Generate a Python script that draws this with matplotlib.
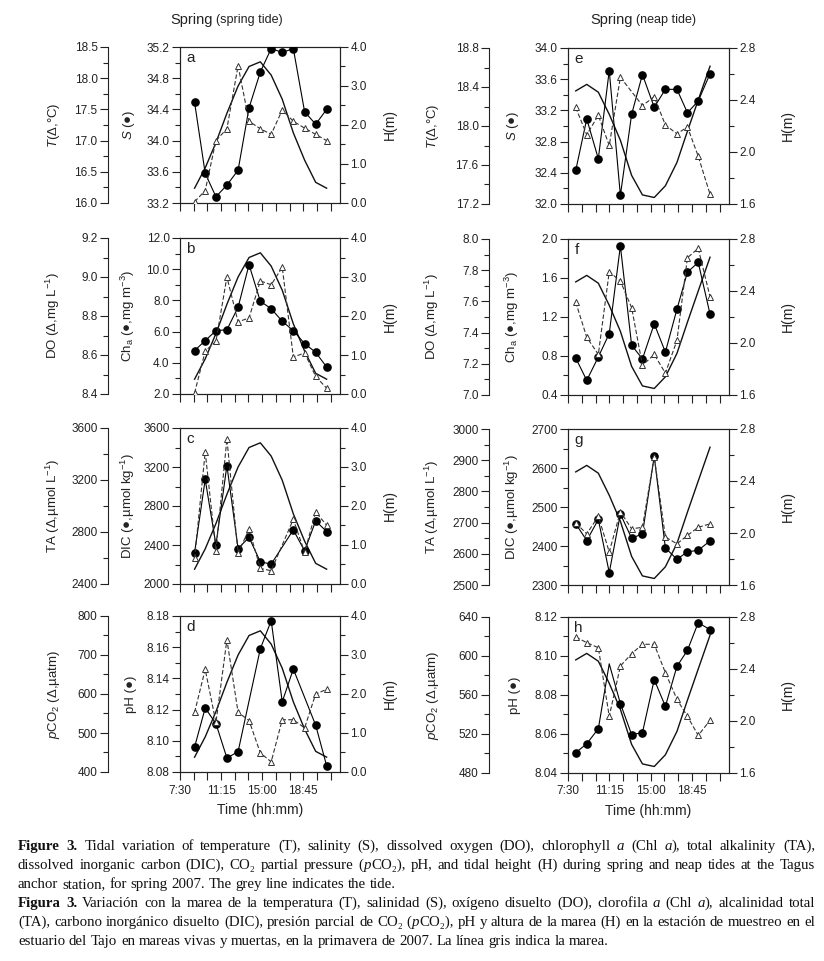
import numpy as np
import matplotlib
matplotlib.use("Agg")
import matplotlib.pyplot as plt
from matplotlib.ticker import MultipleLocator, AutoMinorLocator, FuncFormatter

plt.rcParams['font.family'] = ['Liberation Sans', 'DejaVu Sans']
plt.rcParams['mathtext.fontset'] = 'custom'
plt.rcParams['mathtext.rm'] = 'Liberation Sans'
plt.rcParams['mathtext.it'] = 'Liberation Sans:italic'
plt.rcParams['mathtext.bf'] = 'Liberation Sans:bold'

nan = np.nan

# time of sampling (decimal hours)
spring_time = [8.83, 9.8, 10.78, 11.78, 12.8, 13.8, 14.83, 15.82, 16.83, 17.84, 18.87, 19.88, 20.88]
neap_time = [8.2, 9.2, 10.25, 11.24, 12.25, 13.27, 14.25, 15.32, 16.33, 17.38, 18.33, 19.31, 20.38]

# tidal height (m)
spring_H = [0.38, 0.9, 1.55, 2.3, 3.0, 3.5, 3.62, 3.28, 2.66, 1.8, 1.1, 0.53, 0.38]
neap_H = [2.47, 2.52, 2.46, 2.29, 2.09, 1.82, 1.67, 1.65, 1.74, 1.92, 2.16, 2.40, 2.66]

# spring tide
spring_T = [16.02, 16.20, 17.00, 17.19, 18.20, 17.31, 17.19, 17.10, 17.49, 17.31, 17.20, 17.10, 17.00]
spring_S = [34.49, 33.58, 33.28, 33.43, 33.62, 34.42, 34.88, 35.18, 35.13, 35.18, 34.37, 34.21, 34.40]
spring_DO = [8.405, 8.62, 8.67, 9.00, 8.77, 8.79, 8.98, 8.96, 9.05, 8.59, 8.61, 8.49, 8.43]
spring_Cha = [4.78, 5.42, 6.06, 6.12, 7.56, 10.29, 7.94, 7.47, 6.66, 6.06, 5.23, 4.67, 3.73]
spring_TA = [2597, 3416, 2655, 3516, 2637, 2821, 2520, 2502, nan, 2898, 2643, 2954, 2852]
spring_DIC = [2323, 3072, 2402, 3215, 2364, 2477, 2228, 2204, nan, 2555, 2340, 2647, 2538]
spring_pCO2 = [553, 663, 527, 739, 553, 532, 449, 426, 534, 534, 513, 600, 612]
spring_pH = [8.096, 8.121, 8.111, 8.089, 8.093, nan, 8.159, 8.177, 8.125, 8.146, nan, 8.110, 8.084]

# neap tide
neap_T = [18.19, 17.91, 18.11, 17.80, 18.50, nan, 18.21, 18.30, 18.01, 17.92, 17.99, 17.69, 17.30]
neap_S = [32.43, 33.09, 32.58, 33.71, 32.11, 33.15, 33.66, 33.24, 33.47, 33.47, 33.17, 33.32, 33.67]
neap_DO = [7.595, 7.37, 7.26, 7.79, 7.73, 7.56, 7.19, 7.26, 7.14, 7.35, 7.88, 7.94, 7.63]
neap_Cha = [0.78, 0.55, 0.79, 1.03, 1.93, 0.91, 0.77, 1.13, 0.84, 1.28, 1.66, 1.76, 1.23]
neap_TA = [2699, 2664, 2720, 2606, 2735, 2680, 2685, 2911, 2654, 2632, 2659, 2685, 2696]
neap_DIC = [2457, 2414, 2468, 2332, 2482, 2420, 2431, 2630, 2395, 2366, 2385, 2389, 2413]
neap_pCO2 = [619.5, 613.7, 608.5, 538.1, 589.7, 602.4, 612, 612, 582.9, 555.6, 538, 518.6, 534]
neap_pH = [8.0504, 8.055, 8.0627, 8.096, 8.0756, 8.0597, 8.0607, 8.0879, 8.0742, 8.0947, 8.1029, 8.1171, 8.1135]
neap_pH_nomark = [3]

time_labels = {7.5: '7:30', 11.25: '11:15', 15.0: '15:00', 18.75: '18:45'}

# panel specs: letter, outer data, lim, step, fmt, label, inner data, lim, step, fmt, label
spring_panels = [
    ('a', spring_T, (16.0, 18.5), 0.5, '%.1f', r'$T$(Δ,°C)',
     spring_S, (33.2, 35.2), 0.4, '%.1f', r'$S$ (●)'),
    ('b', spring_DO, (8.4, 9.2), 0.2, '%.1f', r'DO (Δ,mg L$^{-1}$)',
     spring_Cha, (2.0, 12.0), 2.0, '%.1f', r'Ch$_\mathrm{a}$ (●,mg m$^{-3}$)'),
    ('c', spring_TA, (2400, 3600), 400, '%d', r'TA (Δ,µmol L$^{-1}$)',
     spring_DIC, (2000, 3600), 400, '%d', r'DIC (●,µmol kg$^{-1}$)'),
    ('d', spring_pCO2, (400, 800), 100, '%d', r'$p$CO$_2$ (Δ,µatm)',
     spring_pH, (8.08, 8.18), 0.02, '%.2f', r'pH (●)'),
]
neap_panels = [
    ('e', neap_T, (17.2, 18.8), 0.4, '%.1f', r'$T$(Δ,°C)',
     neap_S, (32.0, 34.0), 0.4, '%.1f', r'$S$ (●)'),
    ('f', neap_DO, (7.0, 8.0), 0.2, '%.1f', r'DO (Δ,mg L$^{-1}$)',
     neap_Cha, (0.4, 2.0), 0.4, '%.1f', r'Ch$_\mathrm{a}$ (●,mg m$^{-3}$)'),
    ('g', neap_TA, (2500, 3000), 100, '%d', r'TA (Δ,µmol L$^{-1}$)',
     neap_DIC, (2300, 2700), 100, '%d', r'DIC (●,µmol kg$^{-1}$)'),
    ('h', neap_pCO2, (480, 640), 40, '%d', r'$p$CO$_2$ (Δ,µatm)',
     neap_pH, (8.04, 8.12), 0.02, '%.2f', r'pH (●)'),
]

W, Hpx = 824, 961
fig = plt.figure(figsize=(W / 100, Hpx / 100), dpi=100)

tops = [47, 238, 428, 616]
ph = 156
tick_fs = 8.5
lab_fs = 9.5
ink = '#222222'


def fmt_time(v, pos):
    for k, s in time_labels.items():
        if abs(v - k) < 0.01:
            return s
    return ''


def make_panel(x0, pw, top, spec, t, H, Hlim, Hstep, outer_px, bottom, label_x, nomark=None):
    letter, yo, olim, ostep, ofmt, olab, yi, ilim, istep, ifmt, ilab = spec
    ax = fig.add_axes([x0 / W, 1 - (top + ph) / Hpx, pw / W, ph / Hpx])
    axr = ax.twinx()
    axo = ax.twinx()

    t = np.array(t)
    yo = np.array(yo, dtype=float)
    yi = np.array(yi, dtype=float)

    # tide
    axr.plot(t, H, color='#111111', lw=1.0, zorder=1)
    # inner variable: filled circles, solid
    m = ~np.isnan(yi)
    me = None
    if nomark is not None:
        idx = np.arange(len(yi))[m]
        me = [i for i, k in enumerate(idx) if k not in nomark]
    ax.plot(t[m], yi[m], '-', color='black', lw=0.8, marker='o', ms=5.2,
            mfc='black', mec='black', markevery=me, zorder=3)
    # outer variable: open triangles, dashed
    m2 = ~np.isnan(yo)
    axo.plot(t[m2], yo[m2], '--', color='#333333', lw=0.8, dashes=(4, 2),
             marker='^', ms=5, mfc='white', mec='#333333', mew=0.7, zorder=4)

    ax.set_zorder(axr.get_zorder() + 1)
    ax.patch.set_visible(False)
    axo.set_zorder(ax.get_zorder() + 1)

    ax.set_xlim(7.5, 22.1)
    ax.xaxis.set_major_locator(MultipleLocator(1.25))
    ax.xaxis.set_major_formatter(FuncFormatter(fmt_time) if bottom else FuncFormatter(lambda v, p: ''))

    ax.set_ylim(*ilim)
    ax.yaxis.set_major_locator(MultipleLocator(istep))
    ax.yaxis.set_minor_locator(AutoMinorLocator(2))
    ax.yaxis.set_major_formatter(FuncFormatter(lambda v, p, f=ifmt: f % v))

    axr.set_ylim(*Hlim)
    axr.yaxis.set_major_locator(MultipleLocator(Hstep))
    axr.yaxis.set_minor_locator(AutoMinorLocator(2))
    axr.yaxis.set_major_formatter(FuncFormatter(lambda v, p: '%.1f' % v))

    axo.set_ylim(*olim)
    axo.yaxis.set_major_locator(MultipleLocator(ostep))
    axo.yaxis.set_minor_locator(AutoMinorLocator(2))
    axo.yaxis.set_major_formatter(FuncFormatter(lambda v, p, f=ofmt: f % v))
    axo.yaxis.tick_left()
    axo.yaxis.set_label_position('left')
    # outward offset is in points
    axo.spines['left'].set_position(('outward', outer_px * 0.72))
    for s in ['right', 'top', 'bottom']:
        axo.spines[s].set_visible(False)
    axo.spines['left'].set_visible(True)

    for a in (ax, axr, axo):
        a.tick_params(which='major', direction='out', length=6, width=0.8,
                      labelsize=tick_fs, pad=1.5, color=ink, labelcolor=ink)
        a.tick_params(which='minor', direction='out', length=3.5, width=0.8, color=ink)
        for s in a.spines.values():
            s.set_linewidth(0.8)
            s.set_color(ink)
    ax.tick_params(axis='x', which='major', length=6, pad=3)

    ax.set_ylabel(ilab, fontsize=lab_fs, color=ink)
    axo.set_ylabel(olab, fontsize=lab_fs, color=ink)
    axr.set_ylabel('H(m)', fontsize=lab_fs + 0.5, color=ink)
    ax.yaxis.set_label_coords(label_x[1], 0.5)
    axo.yaxis.set_label_coords(label_x[0], 0.5)
    axr.yaxis.set_label_coords(label_x[2], 0.5)

    ax.text(0.04, 0.975, letter, transform=ax.transAxes, ha='left', va='top',
            fontsize=11, color=ink)
    if bottom:
        ax.set_xlabel('Time (hh:mm)', fontsize=lab_fs + 0.5, color=ink, labelpad=5)
    return ax


for i, spec in enumerate(spring_panels):
    make_panel(180, 160, tops[i], spec, spring_time, spring_H, (0.0, 4.0), 1.0, 72,
               i == 3, (-0.74, -0.27, 1.27))
for i, spec in enumerate(neap_panels):
    make_panel(568, 161, tops[i] + 1, spec, neap_time, neap_H, (1.6, 2.8), 0.4, 79,
               i == 3, (-0.79, -0.29, 1.32), nomark=neap_pH_nomark if i == 3 else None)

# column titles
fig.text(213 / W, 1 - 20 / Hpx, 'Spring', fontsize=10.5, ha='right', va='center', color=ink)
fig.text(216 / W, 1 - 20 / Hpx, '(spring tide)', fontsize=9, ha='left', va='center', color=ink)
fig.text(633 / W, 1 - 20 / Hpx, 'Spring', fontsize=10.5, ha='right', va='center', color=ink)
fig.text(636 / W, 1 - 20 / Hpx, '(neap tide)', fontsize=9, ha='left', va='center', color=ink)

# caption: '#' marks bold pieces, '*' marks italic pieces; lines justified word by word
cap_lines = [
    ('#Figure# #3.# Tidal variation of temperature (T), salinity (S), dissolved oxygen (DO), chlorophyll *a* (Chl *a*), total alkalinity (TA),', True),
    ('dissolved inorganic carbon (DIC), CO₂ partial pressure (*p*CO₂), pH, and tidal height (H) during spring and neap tides at the Tagus', True),
    ('anchor station, for spring 2007. The grey line indicates the tide.', False),
    ('#Figura# #3.# Variación con la marea de la temperatura (T), salinidad (S), oxígeno disuelto (DO), clorofila *a* (Chl *a*), alcalinidad total', True),
    ('(TA), carbono inorgánico disuelto (DIC), presión parcial de CO₂ (*p*CO₂), pH y altura de la marea (H) en la estación de muestreo en el', True),
    ('estuario del Tajo en mareas vivas y muertas, en la primavera de 2007. La línea gris indica la marea.', False),
]
cap_base = [850, 869, 888, 907, 926, 945]
cap_x0, cap_x1 = 18, 815
serif = ['Liberation Serif', 'DejaVu Serif']
renderer = fig.canvas.get_renderer()


def split_pieces(word):
    pieces = []
    buf, style, weight = '', 'normal', 'normal'
    for ch in word:
        if ch in '*#':
            if buf:
                pieces.append((buf, style, weight))
                buf = ''
            if ch == '*':
                style = 'italic' if style == 'normal' else 'normal'
            else:
                weight = 'bold' if weight == 'normal' else 'normal'
        else:
            buf += ch
    if buf:
        pieces.append((buf, style, weight))
    return pieces


def place_line(line, yb, just, fs):
    words = []
    for w in line.split():
        pcs = []
        for s, st, wt in split_pieces(w):
            tx = fig.text(0, 1 - yb / Hpx, s, fontsize=fs, family=serif, style=st,
                          weight=wt, va='baseline', color='#111111')
            pcs.append((tx, tx.get_window_extent(renderer).width))
        words.append(pcs)
    widths = [sum(p[1] for p in pcs) for pcs in words]
    sp = fig.text(0, 0, 'a b', fontsize=fs, family=serif)
    sp2 = fig.text(0, 0, 'ab', fontsize=fs, family=serif)
    space = sp.get_window_extent(renderer).width - sp2.get_window_extent(renderer).width
    sp.remove()
    sp2.remove()
    gap = (cap_x1 - cap_x0 - sum(widths)) / (len(words) - 1) if just else space
    if gap < 0.7 * space:
        for pcs in words:
            for tx, _ in pcs:
                tx.remove()
        return place_line(line, yb, just, fs - 0.2)
    x = cap_x0
    for pcs, w in zip(words, widths):
        xx = x
        for tx, pw in pcs:
            tx.set_x(xx / W)
            xx += pw
        x += w + gap


for (line, just), yb in zip(cap_lines, cap_base):
    place_line(line, yb, just, 10.7)

fig.savefig('out.png', dpi=100)
